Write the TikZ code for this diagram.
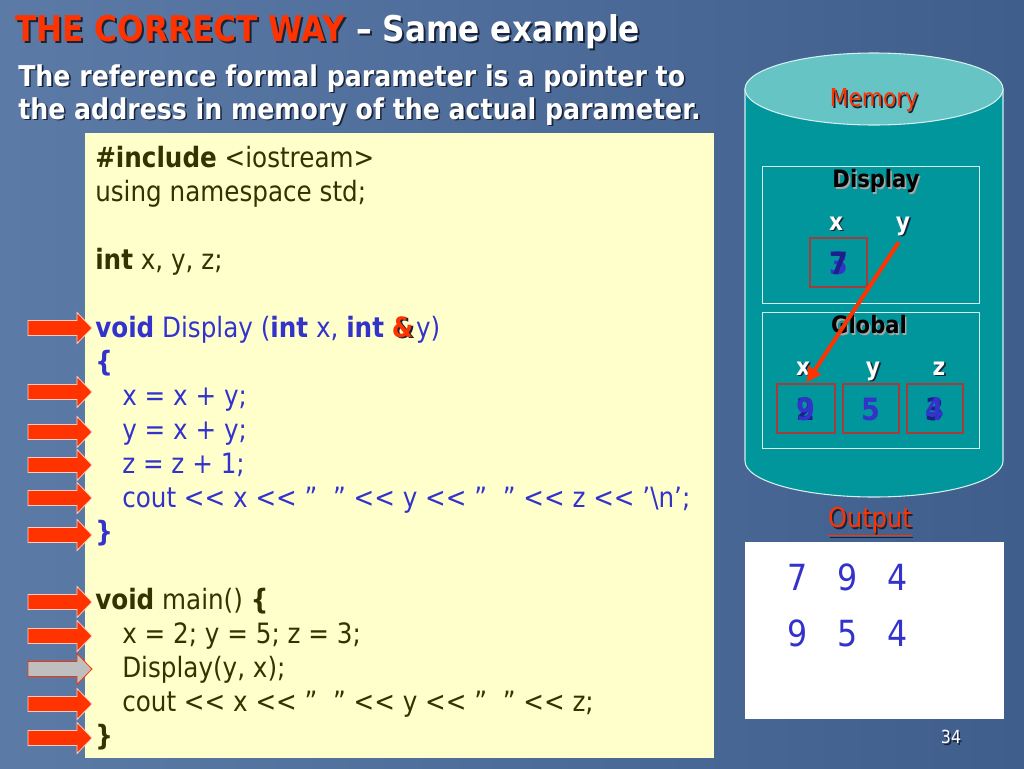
\documentclass[tikz,border=0pt]{standalone}
\usepackage{fontspec}
\setmainfont{DejaVu Sans}[FakeStretch=0.88,Ligatures=TeXOff]
\usetikzlibrary{calc,arrows.meta}
\definecolor{bgA}{RGB}{92,122,166}
\definecolor{bgB}{RGB}{64,94,140}
\definecolor{accent}{RGB}{255,51,0}
\definecolor{codebg}{RGB}{255,255,204}
\definecolor{olive}{RGB}{51,51,0}
\definecolor{cblue}{RGB}{51,51,204}
\definecolor{tealbody}{RGB}{0,150,155}
\definecolor{tealtop}{RGB}{102,196,196}
\definecolor{boxline}{RGB}{210,240,240}
\definecolor{valline}{RGB}{165,60,60}
\definecolor{shadowc}{RGB}{25,35,55}
\definecolor{valdark}{RGB}{30,30,140}
\newcommand\shnode[5]{%
  \node[#2,text=#4] (#1-sh) at ([shift={(1.2pt,-1.2pt)}]#3) {#5};
  \node[#2] (#1) at (#3) {#5};}
\tikzset{
  blockarrow/.pic={\path[pic actions] (0,-7.5) -- (49,-7.5) -- (49,-15.5) -- (64,0) -- (49,15.5) -- (49,7.5) -- (0,7.5) -- cycle;},
  redarr/.style={fill=accent,draw=white!75!accent,line width=0.6pt},
  grayarr/.style={fill=black!25,draw=accent,line width=0.6pt},
  code/.style={anchor=base west,inner sep=0pt,font=\fontsize{21}{25}\selectfont},
  memframe/.style={draw=boxline,line width=0.8pt,inner sep=0pt,anchor=north west},
  valbox/.style={draw=valline,line width=0.8pt,inner sep=0pt,minimum height=36.75pt},
  val/.style={inner sep=0pt,anchor=base,font=\bfseries\fontsize{23}{26}\selectfont,text=cblue},
  lbl/.style={inner sep=0pt,anchor=base,font=\bfseries\fontsize{18.5}{20}\selectfont,text=white},
  hdr/.style={inner sep=0pt,font=\bfseries\fontsize{18}{20}\selectfont,text=black},
  ptr/.style={draw=accent,line width=3pt,-{Triangle[length=11pt,width=11pt]}},
}
\begin{document}
\begin{tikzpicture}[x=0.75pt,y=-0.75pt]
\useasboundingbox (0,0) rectangle (1024,768);
\shade[left color=bgA,right color=bgB] (0,0) rectangle (1024,768);
% title
\node[anchor=base west,inner sep=0pt,font=\bfseries\fontsize{26.6}{30}\selectfont,text=shadowc] (title-sh) at ([shift={(1.5pt,-1.5pt)}]15,41) {THE CORRECT WAY – Same example};
\node[anchor=base west,inner sep=0pt,font=\bfseries\fontsize{26.6}{30}\selectfont] (title) at (15,41) {\textcolor{accent}{THE CORRECT WAY} \textcolor{white}{– Same example}};
\shnode{sub1}{anchor=base west,inner sep=0pt,font=\bfseries\fontsize{21.5}{25}\selectfont,text=white}{18,86}{shadowc}{The reference formal parameter is a pointer to}
\shnode{sub2}{anchor=base west,inner sep=0pt,font=\bfseries\fontsize{21.5}{25}\selectfont,text=white}{18,119}{shadowc}{the address in memory of the actual parameter.}
% code box
\node[fill=codebg,inner sep=0pt,minimum width=471.75pt,minimum height=468.75pt,anchor=north west] (codebox) at (85,133) {};
\node[code,text=olive] (l0) at (95,167) {\textbf{\#include} <iostream>};
\node[code,text=olive] (l1) at (95,201) {using namespace std;};
\node[code,text=olive] (l3) at (95,269) {\textbf{int} x, y, z;};
\node[code,text=cblue] (l5) at (95,337) {\textbf{void} Display (\textbf{int} x, \textbf{int} \mbox{\rlap{\textcolor{shadowc}{\kern0.07em\raisebox{-0.07em}{\textbf{\&}}}}\textcolor{accent}{\textbf{\&}}}\kern2pt y)};
\node[code,text=cblue] (l6) at (95,371) {\textbf{\{}};
\node[code,text=cblue] (l7) at (122,405) {x = x + y;};
\node[code,text=cblue] (l8) at (122,439) {y = x + y;};
\node[code,text=cblue] (l9) at (122,473) {z = z + 1;};
\node[code,text=cblue] (l10) at (122,507) {cout << x << ”\ \ ” << y << ”\ \ ” << z << ’\textbackslash n’;};
\node[code,text=cblue] (l11) at (95,541) {\textbf{\}}};
\node[code,text=olive] (l13) at (95,609) {\textbf{void} main() \textbf{\{}};
\node[code,text=olive] (l14) at (122,643) {x = 2; y = 5; z = 3;};
\node[code,text=olive] (l15) at (122,677) {Display(y, x);};
\node[code,text=olive] (l16) at (122,711) {cout << x << ”\ \ ” << y << ”\ \ ” << z;};
\node[code,text=olive] (l17) at (95,745) {\textbf{\}}};
% block arrows
\foreach \yy in {328,392,432,465,498,535,602,636,704,738}
  \pic[redarr] at (28,\yy) {blockarrow};
\pic[grayarr] at (28,669) {blockarrow};
% memory cylinder
\path[fill=tealbody,draw=boxline,line width=0.8pt] (745,89) -- (745,461) arc[start angle=180,end angle=360,x radius=96.75pt,y radius=27pt] -- (1003,89) -- cycle;
\path[fill=tealtop,draw=boxline,line width=0.8pt] (874,89) ellipse[x radius=96.75pt,y radius=27pt];
\shnode{mem}{inner sep=0pt,font=\fontsize{18.5}{22}\selectfont,text=accent}{874,100}{shadowc}{Memory}
% display frame
\node[memframe,minimum width=162.75pt,minimum height=102.75pt] (dispbox) at (762,166) {};
\shnode{disphdr}{hdr}{876,181}{black!35}{Display}
\shnode{dx}{lbl}{836,230}{shadowc}{x}
\shnode{dy}{lbl}{903,230}{shadowc}{y}
\node[valbox,minimum width=42.75pt] (dxbox) at (838.5,262.5) {};
\node[val] (dx3) at (838.5,274) {3};
\node[val,text=valdark] (dx7) at (838.5,274) {7};
% global frame
\node[memframe,minimum width=162.75pt,minimum height=102pt] (globbox) at (762,312) {};
\shnode{globhdr}{hdr}{869,325}{black!35}{Global}
\shnode{gx}{lbl}{803,375}{shadowc}{x}
\shnode{gy}{lbl}{873,375}{shadowc}{y}
\shnode{gz}{lbl}{939,375}{shadowc}{z}
\node[valbox,minimum width=43.5pt] (gxbox) at (806,408.5) {};
\node[valbox,minimum width=42pt] (gybox) at (871,408.5) {};
\node[valbox,minimum width=42pt] (gzbox) at (935,408.5) {};
\node[val,text=valdark] (gx2) at (806,420) {2};
\node[val] (gx9) at (806,420) {9};
\node[val] (gy5) at (871,420) {5};
\node[val,text=valdark] (gz3) at (935,420) {3};
\node[val] (gz4) at (935,420) {4};
% pointer
\draw[ptr,shorten <=6pt,shorten >=1pt] (dy.south) -- (gxbox.north);
% output
\shnode{outlbl}{inner sep=0pt,font=\fontsize{20.5}{24}\selectfont,text=accent}{870,522}{shadowc}{\underline{Output}}
\node[fill=white,inner sep=0pt,minimum width=194.25pt,minimum height=132.75pt,anchor=north west] (outbox) at (745,542) {};
\node[inner sep=0pt,font=\fontsize{27}{30}\selectfont,text=cblue] (row1) at (848,577) {\makebox[37.5pt]{7}\makebox[37.5pt]{9}\makebox[37.5pt]{4}};
\node[inner sep=0pt,font=\fontsize{27}{30}\selectfont,text=cblue] (row2) at (848,633) {\makebox[37.5pt]{9}\makebox[37.5pt]{5}\makebox[37.5pt]{4}};
\shnode{pagenum}{inner sep=0pt,font=\fontsize{13.5}{16}\selectfont,text=white}{951,737}{shadowc}{34}
\end{tikzpicture}
\end{document}
